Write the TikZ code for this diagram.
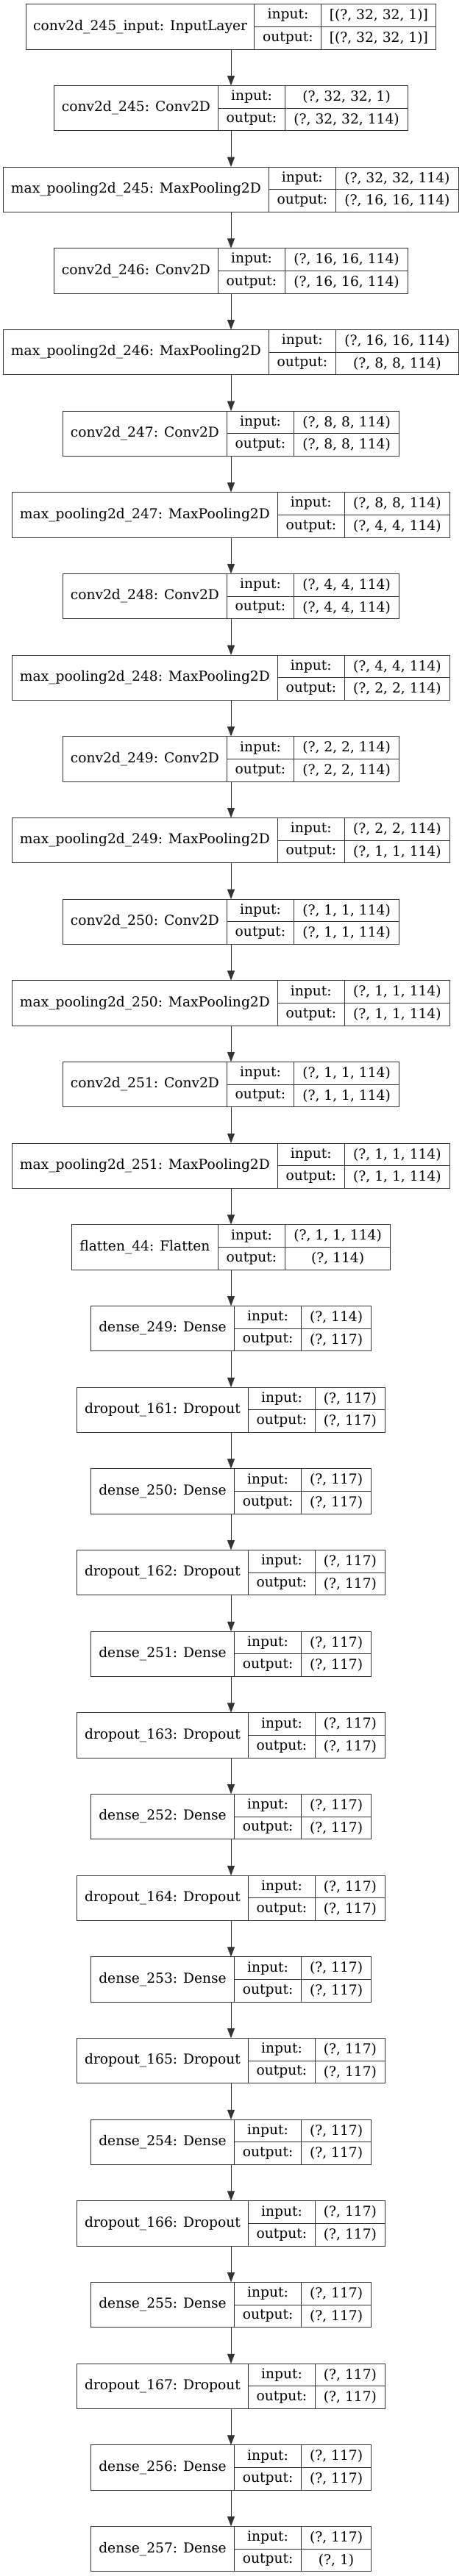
\documentclass[tikz,border=0pt]{standalone}
\usepackage{fontspec}
\setmainfont{DejaVu Serif}
\usetikzlibrary{arrows.meta, positioning, calc}

\begin{document}
\begin{tikzpicture}[
  x=1pt, y=-1pt,
  font=\fontsize{14}{16}\selectfont,
  cella/.style={draw=black!80, line width=0.75pt, fill=white, align=center,
                inner sep=0pt, outer sep=0pt},
  etichetta/.style={cella, minimum height=46pt},
  chiave/.style={cella, minimum width=68.25pt, minimum height=23pt},
  valore/.style={cella, minimum height=23pt},
  freccia/.style={draw=black!80, line width=0.75pt,
                  -{Triangle[length=10pt, width=7.5pt]}}
]

% Ogni strato: etichetta a sinistra, poi la colonna input:/output:
% e la colonna dei valori. L'insieme e' centrato sull'asse x=235.5;
% il passo verticale fra gli strati e' 83pt.
% #1 nome, #2 riga, #3 larghezza etichetta, #4 larghezza valori,
% #5 testo, #6 forma in ingresso, #7 forma in uscita
\def\strato#1#2#3#4#5#6#7{%
  \node[etichetta, minimum width=#3pt] (#1)
       at ({235.5-(68.25+#4)/2},{27.3+83*#2}) {#5};
  \node[chiave, anchor=north west] (#1-ki) at (#1.north east) {input:};
  \node[chiave, anchor=north west] (#1-ko) at (#1-ki.south west) {output:};
  \node[valore, minimum width=#4pt, anchor=north west] (#1-vi) at (#1-ki.north east) {#6};
  \node[valore, minimum width=#4pt, anchor=north west] (#1-vo) at (#1-ko.north east) {#7};
}

\useasboundingbox (0,0) rectangle (471,2628);
\coordinate (asse) at (235.5,0);

% ---- parte convolutiva ----------------------------------------------
\strato{in}{0}{233}{116.8}{conv2d\_245\_input: InputLayer}{[(?, 32, 32, 1)]}{[(?, 32, 32, 1)]}
\strato{c245}{1}{167.4}{125.4}{conv2d\_245: Conv2D}{(?, 32, 32, 1)}{(?, 32, 32, 114)}
\strato{p245}{2}{270.6}{125.4}{max\_pooling2d\_245: MaxPooling2D}{(?, 32, 32, 114)}{(?, 16, 16, 114)}
\strato{c246}{3}{167.4}{125.4}{conv2d\_246: Conv2D}{(?, 16, 16, 114)}{(?, 16, 16, 114)}
\strato{p246}{4}{270.6}{125.4}{max\_pooling2d\_246: MaxPooling2D}{(?, 16, 16, 114)}{(?, 8, 8, 114)}
\strato{c247}{5}{167.4}{107.4}{conv2d\_247: Conv2D}{(?, 8, 8, 114)}{(?, 8, 8, 114)}
\strato{p247}{6}{270.6}{107.4}{max\_pooling2d\_247: MaxPooling2D}{(?, 8, 8, 114)}{(?, 4, 4, 114)}
\strato{c248}{7}{167.4}{107.4}{conv2d\_248: Conv2D}{(?, 4, 4, 114)}{(?, 4, 4, 114)}
\strato{p248}{8}{270.6}{107.4}{max\_pooling2d\_248: MaxPooling2D}{(?, 4, 4, 114)}{(?, 2, 2, 114)}
\strato{c249}{9}{167.4}{107.4}{conv2d\_249: Conv2D}{(?, 2, 2, 114)}{(?, 2, 2, 114)}
\strato{p249}{10}{270.6}{107.4}{max\_pooling2d\_249: MaxPooling2D}{(?, 2, 2, 114)}{(?, 1, 1, 114)}
\strato{c250}{11}{167.4}{107.4}{conv2d\_250: Conv2D}{(?, 1, 1, 114)}{(?, 1, 1, 114)}
\strato{p250}{12}{270.6}{107.4}{max\_pooling2d\_250: MaxPooling2D}{(?, 1, 1, 114)}{(?, 1, 1, 114)}
\strato{c251}{13}{167.4}{107.4}{conv2d\_251: Conv2D}{(?, 1, 1, 114)}{(?, 1, 1, 114)}
\strato{p251}{14}{270.6}{107.4}{max\_pooling2d\_251: MaxPooling2D}{(?, 1, 1, 114)}{(?, 1, 1, 114)}
\strato{fl44}{15}{149.3}{107.4}{flatten\_44: Flatten}{(?, 1, 1, 114)}{(?, 114)}

% ---- parte densa ------------------------------------------------------
\strato{d249}{16}{146.3}{71.2}{dense\_249: Dense}{(?, 114)}{(?, 117)}
\strato{dr161}{17}{174.6}{71.2}{dropout\_161: Dropout}{(?, 117)}{(?, 117)}
\strato{d250}{18}{146.3}{71.2}{dense\_250: Dense}{(?, 117)}{(?, 117)}
\strato{dr162}{19}{174.6}{71.2}{dropout\_162: Dropout}{(?, 117)}{(?, 117)}
\strato{d251}{20}{146.3}{71.2}{dense\_251: Dense}{(?, 117)}{(?, 117)}
\strato{dr163}{21}{174.6}{71.2}{dropout\_163: Dropout}{(?, 117)}{(?, 117)}
\strato{d252}{22}{146.3}{71.2}{dense\_252: Dense}{(?, 117)}{(?, 117)}
\strato{dr164}{23}{174.6}{71.2}{dropout\_164: Dropout}{(?, 117)}{(?, 117)}
\strato{d253}{24}{146.3}{71.2}{dense\_253: Dense}{(?, 117)}{(?, 117)}
\strato{dr165}{25}{174.6}{71.2}{dropout\_165: Dropout}{(?, 117)}{(?, 117)}
\strato{d254}{26}{146.3}{71.2}{dense\_254: Dense}{(?, 117)}{(?, 117)}
\strato{dr166}{27}{174.6}{71.2}{dropout\_166: Dropout}{(?, 117)}{(?, 117)}
\strato{d255}{28}{146.3}{71.2}{dense\_255: Dense}{(?, 117)}{(?, 117)}
\strato{dr167}{29}{174.6}{71.2}{dropout\_167: Dropout}{(?, 117)}{(?, 117)}
\strato{d256}{30}{146.3}{71.2}{dense\_256: Dense}{(?, 117)}{(?, 117)}
\strato{d257}{31}{146.3}{71.2}{dense\_257: Dense}{(?, 117)}{(?, 1)}

% ---- collegamenti lungo l'asse ---------------------------------------
\foreach \a/\b in {in/c245, c245/p245, p245/c246, c246/p246, p246/c247,
                   c247/p247, p247/c248, c248/p248, p248/c249, c249/p249,
                   p249/c250, c250/p250, p250/c251, c251/p251, p251/fl44,
                   fl44/d249, d249/dr161, dr161/d250, d250/dr162, dr162/d251,
                   d251/dr163, dr163/d252, d252/dr164, dr164/d253, d253/dr165,
                   dr165/d254, d254/dr166, dr166/d255, d255/dr167, dr167/d256,
                   d256/d257}
  \draw[freccia] (\a.south -| asse) -- (\b.north -| asse);

\end{tikzpicture}
\end{document}
